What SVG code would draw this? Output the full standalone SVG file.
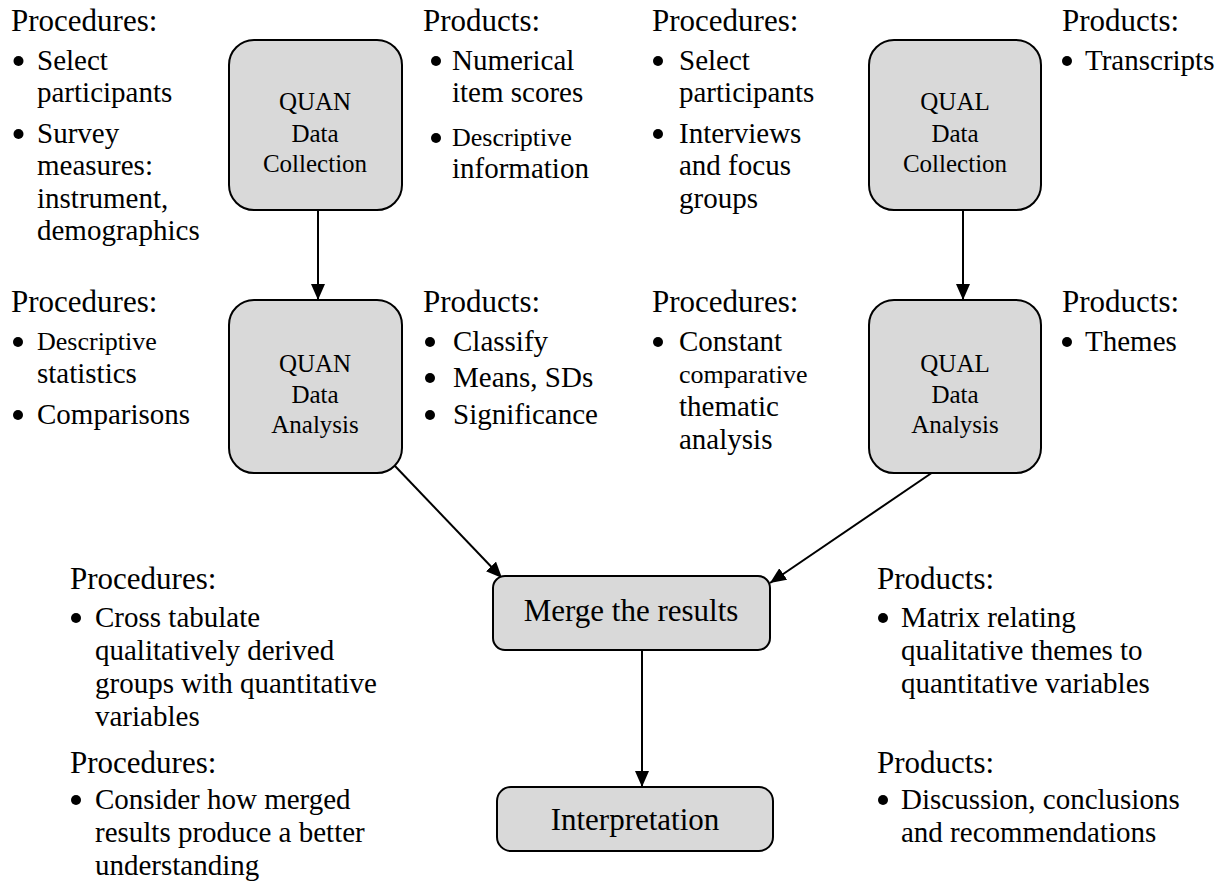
<svg xmlns="http://www.w3.org/2000/svg" width="1222" height="886" viewBox="0 0 1222 886" font-family="Liberation Serif, Times New Roman, serif">
<style>
text{font-family:"Liberation Serif","Times New Roman",serif;fill:#000}
.lbl{font-size:29px}
.hdr{font-size:31px}
.sml{font-size:26px}
.bxt{font-size:25px;text-anchor:middle}
.big{font-size:31px;text-anchor:middle}
.box{fill:#d9d9d9;stroke:#000;stroke-width:2}
.con{stroke:#000;stroke-width:2;fill:none;marker-end:url(#arr)}
.dot{fill:#000}
</style>
<defs>
<marker id="arr" viewBox="0 0 16 14" refX="16" refY="7" markerWidth="16" markerHeight="14" markerUnits="userSpaceOnUse" orient="auto">
<path d="M0,0 L16,7 L0,14 z" fill="#000"/>
</marker>
</defs>
<rect width="1222" height="886" fill="#fff"/>

<g id="connectors">
<path class="con" d="M318,210 L318,300"/>
<path class="con" d="M963,210 L963,300"/>
<path class="con" d="M395,466 L502,578"/>
<path class="con" d="M936,470 L770,583"/>
<path class="con" d="M642,650 L642,787"/>
</g>

<g id="quan-collection">
<rect class="box" x="229" y="40" width="173" height="170" rx="25"/>
<text class="bxt" x="315" y="110">QUAN</text>
<text class="bxt" x="315" y="142">Data</text>
<text class="bxt" x="315" y="172">Collection</text>
</g>
<g id="quan-analysis">
<rect class="box" x="229" y="300" width="173" height="173" rx="25"/>
<text class="bxt" x="315" y="372">QUAN</text>
<text class="bxt" x="315" y="403">Data</text>
<text class="bxt" x="315" y="433">Analysis</text>
</g>
<g id="qual-collection">
<rect class="box" x="869" y="40" width="172" height="170" rx="25"/>
<text class="bxt" x="955" y="110">QUAL</text>
<text class="bxt" x="955" y="142">Data</text>
<text class="bxt" x="955" y="172">Collection</text>
</g>
<g id="qual-analysis">
<rect class="box" x="869" y="300" width="172" height="173" rx="25"/>
<text class="bxt" x="955" y="372">QUAL</text>
<text class="bxt" x="955" y="403">Data</text>
<text class="bxt" x="955" y="433">Analysis</text>
</g>
<g id="merge">
<rect class="box" x="493" y="576" width="277" height="74" rx="12"/>
<text class="big" x="631" y="621">Merge the results</text>
</g>
<g id="interpretation">
<rect class="box" x="497" y="787" width="276" height="64" rx="14"/>
<text class="big" x="635" y="830">Interpretation</text>
</g>

<g id="quan-collection-procedures">
<text class="hdr" x="11" y="31">Procedures:</text>
<circle class="dot" cx="18.5" cy="61" r="5"/>
<text class="lbl" x="37" y="70">Select</text>
<text class="lbl" x="37" y="102">participants</text>
<circle class="dot" cx="18.5" cy="134" r="5"/>
<text class="lbl" x="37" y="143">Survey</text>
<text class="lbl" x="37" y="175">measures:</text>
<text class="lbl" x="37" y="208">instrument,</text>
<text class="lbl" x="37" y="240">demographics</text>
</g>
<g id="quan-collection-products">
<text class="hdr" x="423" y="31">Products:</text>
<circle class="dot" cx="436" cy="61" r="5"/>
<text class="lbl" x="452" y="70">Numerical</text>
<text class="lbl" x="452" y="102">item scores</text>
<circle class="dot" cx="436" cy="138" r="5"/>
<text class="sml" x="452" y="146">Descriptive</text>
<text class="lbl" x="452" y="178">information</text>
</g>
<g id="qual-collection-procedures">
<text class="hdr" x="652" y="31">Procedures:</text>
<circle class="dot" cx="658" cy="61" r="5"/>
<text class="lbl" x="679" y="70">Select</text>
<text class="lbl" x="679" y="102">participants</text>
<circle class="dot" cx="658" cy="134" r="5"/>
<text class="lbl" x="679" y="143">Interviews</text>
<text class="lbl" x="679" y="175">and focus</text>
<text class="lbl" x="679" y="208">groups</text>
</g>
<g id="qual-collection-products">
<text class="hdr" x="1062" y="31">Products:</text>
<circle class="dot" cx="1067" cy="61" r="5"/>
<text class="lbl" x="1085" y="70">Transcripts</text>
</g>

<g id="quan-analysis-procedures">
<text class="hdr" x="11" y="312">Procedures:</text>
<circle class="dot" cx="18" cy="342" r="5"/>
<text class="sml" x="37" y="350">Descriptive</text>
<text class="lbl" x="37" y="383">statistics</text>
<circle class="dot" cx="18" cy="415" r="5"/>
<text class="lbl" x="37" y="424">Comparisons</text>
</g>
<g id="quan-analysis-products">
<text class="hdr" x="423" y="312">Products:</text>
<circle class="dot" cx="430" cy="342" r="5"/>
<text class="lbl" x="453" y="351">Classify</text>
<circle class="dot" cx="430" cy="378" r="5"/>
<text class="lbl" x="453" y="387">Means, SDs</text>
<circle class="dot" cx="430" cy="415" r="5"/>
<text class="lbl" x="453" y="424">Significance</text>
</g>
<g id="qual-analysis-procedures">
<text class="hdr" x="652" y="312">Procedures:</text>
<circle class="dot" cx="658" cy="342" r="5"/>
<text class="lbl" x="679" y="351">Constant</text>
<text class="sml" x="679" y="383">comparative</text>
<text class="lbl" x="679" y="416">thematic</text>
<text class="lbl" x="679" y="449">analysis</text>
</g>
<g id="qual-analysis-products">
<text class="hdr" x="1062" y="312">Products:</text>
<circle class="dot" cx="1067" cy="342" r="5"/>
<text class="lbl" x="1085" y="351">Themes</text>
</g>

<g id="merge-procedures">
<text class="hdr" x="70" y="589">Procedures:</text>
<circle class="dot" cx="76" cy="618" r="5"/>
<text class="lbl" x="95" y="627">Cross tabulate</text>
<text class="lbl" x="95" y="660">qualitatively derived</text>
<text class="lbl" x="95" y="693">groups with quantitative</text>
<text class="lbl" x="95" y="726">variables</text>
</g>
<g id="merge-products">
<text class="hdr" x="877" y="589">Products:</text>
<circle class="dot" cx="883" cy="618" r="5"/>
<text class="lbl" x="901" y="627">Matrix relating</text>
<text class="lbl" x="901" y="660">qualitative themes to</text>
<text class="lbl" x="901" y="693">quantitative variables</text>
</g>
<g id="interpretation-procedures">
<text class="hdr" x="70" y="773">Procedures:</text>
<circle class="dot" cx="76" cy="800" r="5"/>
<text class="lbl" x="95" y="809">Consider how merged</text>
<text class="lbl" x="95" y="842">results produce a better</text>
<text class="lbl" x="95" y="875">understanding</text>
</g>
<g id="interpretation-products">
<text class="hdr" x="877" y="773">Products:</text>
<circle class="dot" cx="883" cy="800" r="5"/>
<text class="lbl" x="901" y="809">Discussion, conclusions</text>
<text class="lbl" x="901" y="842">and recommendations</text>
</g>
</svg>
